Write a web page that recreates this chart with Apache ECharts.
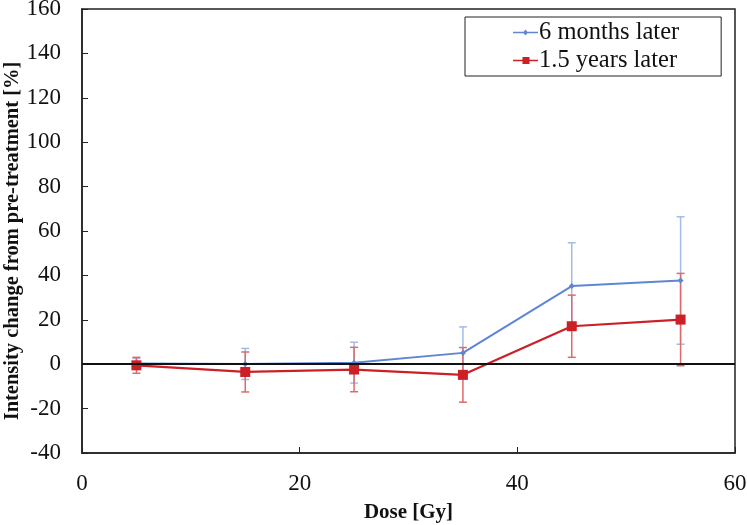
<!DOCTYPE html>
<html>
<head>
<meta charset="utf-8">
<script src="https://cdn.jsdelivr.net/npm/echarts@6/dist/echarts.min.js"></script>
<style>html,body{margin:0;padding:0;background:#fff}#c{width:747px;height:525px}</style>
</head>
<body>
<div id="c"></div>
<script>
const doses = [5, 15, 25, 35, 45, 55];
const sixMonths = [0.3, 0.1, 0.7, 5.1, 35.2, 37.7];
const sixMonthsErr = [2.3, 7.0, 9.2, 11.7, 19.5, 28.7];
const oneHalfYears = [-0.5, -3.5, -2.4, -4.8, 17.1, 20.1];
const oneHalfYearsErr = [3.6, 9.0, 10.0, 12.3, 14.0, 20.8];
const xTicks = [0, 20, 40, 60];
const yTicks = [-40, 160, 20];
const yTitle = 'Intensity change from pre-treatment [%]';
const xTitle = 'Dose [Gy]';

const blue = '#5f86d3';
const blueErr = '#a3bbe6';
const red = '#cc1f26';
const redErr = '#dc6a6e';
const font = 'Liberation Serif';

function errSeries(name, vals, errs, color) {
  return {
    type: 'custom',
    name: name + ' err',
    silent: true,
    z: 2,
    data: doses.map((d, i) => [d, vals[i] - errs[i], vals[i] + errs[i]]),
    renderItem: function (params, api) {
      const lo = api.coord([api.value(0), api.value(1)]);
      const hi = api.coord([api.value(0), api.value(2)]);
      const w = 4;
      const st = { stroke: color, lineWidth: 1.5, fill: null };
      return {
        type: 'group',
        children: [
          { type: 'line', shape: { x1: lo[0], y1: lo[1], x2: hi[0], y2: hi[1] }, style: st },
          { type: 'line', shape: { x1: lo[0] - w, y1: lo[1], x2: lo[0] + w, y2: lo[1] }, style: st },
          { type: 'line', shape: { x1: hi[0] - w, y1: hi[1], x2: hi[0] + w, y2: hi[1] }, style: st }
        ]
      };
    }
  };
}

const chart = echarts.init(document.getElementById('c'), null, { renderer: 'canvas' });
chart.setOption({
  animation: false,
  backgroundColor: '#fff',
  grid: { left: 82, right: 12, top: 9, bottom: 72, show: true, borderColor: '#222', borderWidth: 1.5, backgroundColor: 'transparent', containLabel: false, outerBoundsMode: 'none' },
  graphic: [{
    type: 'text', x: 13, y: 241, rotation: Math.PI / 2,
    style: { text: yTitle, fontFamily: font, fontSize: 20.5, fontWeight: 'bold', fill: '#111', align: 'center', verticalAlign: 'middle' }
  }],
  legend: {
    orient: 'vertical',
    left: 465, top: 17,
    padding: [3, 42, 3, 48],
    itemGap: 3,
    itemWidth: 25, itemHeight: 23,
    borderColor: '#222', borderWidth: 1,
    backgroundColor: '#fff',
    data: [
      { name: '6 months later', icon: 'path://M0,2.2H25V3.8H0Z M12.5,0L15,3L12.5,6L10,3Z' },
      { name: '1.5 years later', icon: 'path://M0,2.7H25V4.3H0Z M9.5,0H16.5V7H9.5Z' }
    ],
    textStyle: { fontFamily: font, fontSize: 24.5, color: '#111', padding: [0, 0, 0, -4] }
  },
  xAxis: {
    type: 'value', min: xTicks[0], max: xTicks[xTicks.length - 1], interval: 20,
    name: xTitle, nameLocation: 'middle', nameGap: 49,
    nameTextStyle: { fontFamily: font, fontSize: 21, fontWeight: 'bold', color: '#111' },
    axisLine: { onZero: false, lineStyle: { color: '#222', width: 1.5 } },
    axisTick: { inside: true, length: 6, lineStyle: { color: '#222' } },
    axisLabel: { fontFamily: font, fontSize: 23, color: '#111', margin: 19 },
    splitLine: { show: false }
  },
  yAxis: {
    type: 'value', min: yTicks[0], max: yTicks[1], interval: yTicks[2],
    axisLine: { lineStyle: { color: '#222', width: 1.5 } },
    axisTick: { inside: true, length: 6, lineStyle: { color: '#222' } },
    axisLabel: { fontFamily: font, fontSize: 23, color: '#111', margin: 21 },
    splitLine: { show: false }
  },
  series: [
    errSeries('6 months later', sixMonths, sixMonthsErr, blueErr),
    errSeries('1.5 years later', oneHalfYears, oneHalfYearsErr, redErr),
    {
      name: '6 months later', type: 'line', z: 3,
      data: doses.map((d, i) => [d, sixMonths[i]]),
      symbol: 'diamond', symbolSize: 6,
      itemStyle: { color: blue }, lineStyle: { color: blue, width: 2 },
      markLine: {
        silent: true, symbol: 'none', label: { show: false },
        lineStyle: { color: '#111', width: 2, type: 'solid' },
        data: [{ yAxis: 0 }]
      }
    },
    {
      name: '1.5 years later', type: 'line', z: 4,
      data: doses.map((d, i) => [d, oneHalfYears[i]]),
      symbol: 'rect', symbolSize: 10,
      itemStyle: { color: red }, lineStyle: { color: red, width: 2.2 }
    }
  ]
});
</script>
</body>
</html>
